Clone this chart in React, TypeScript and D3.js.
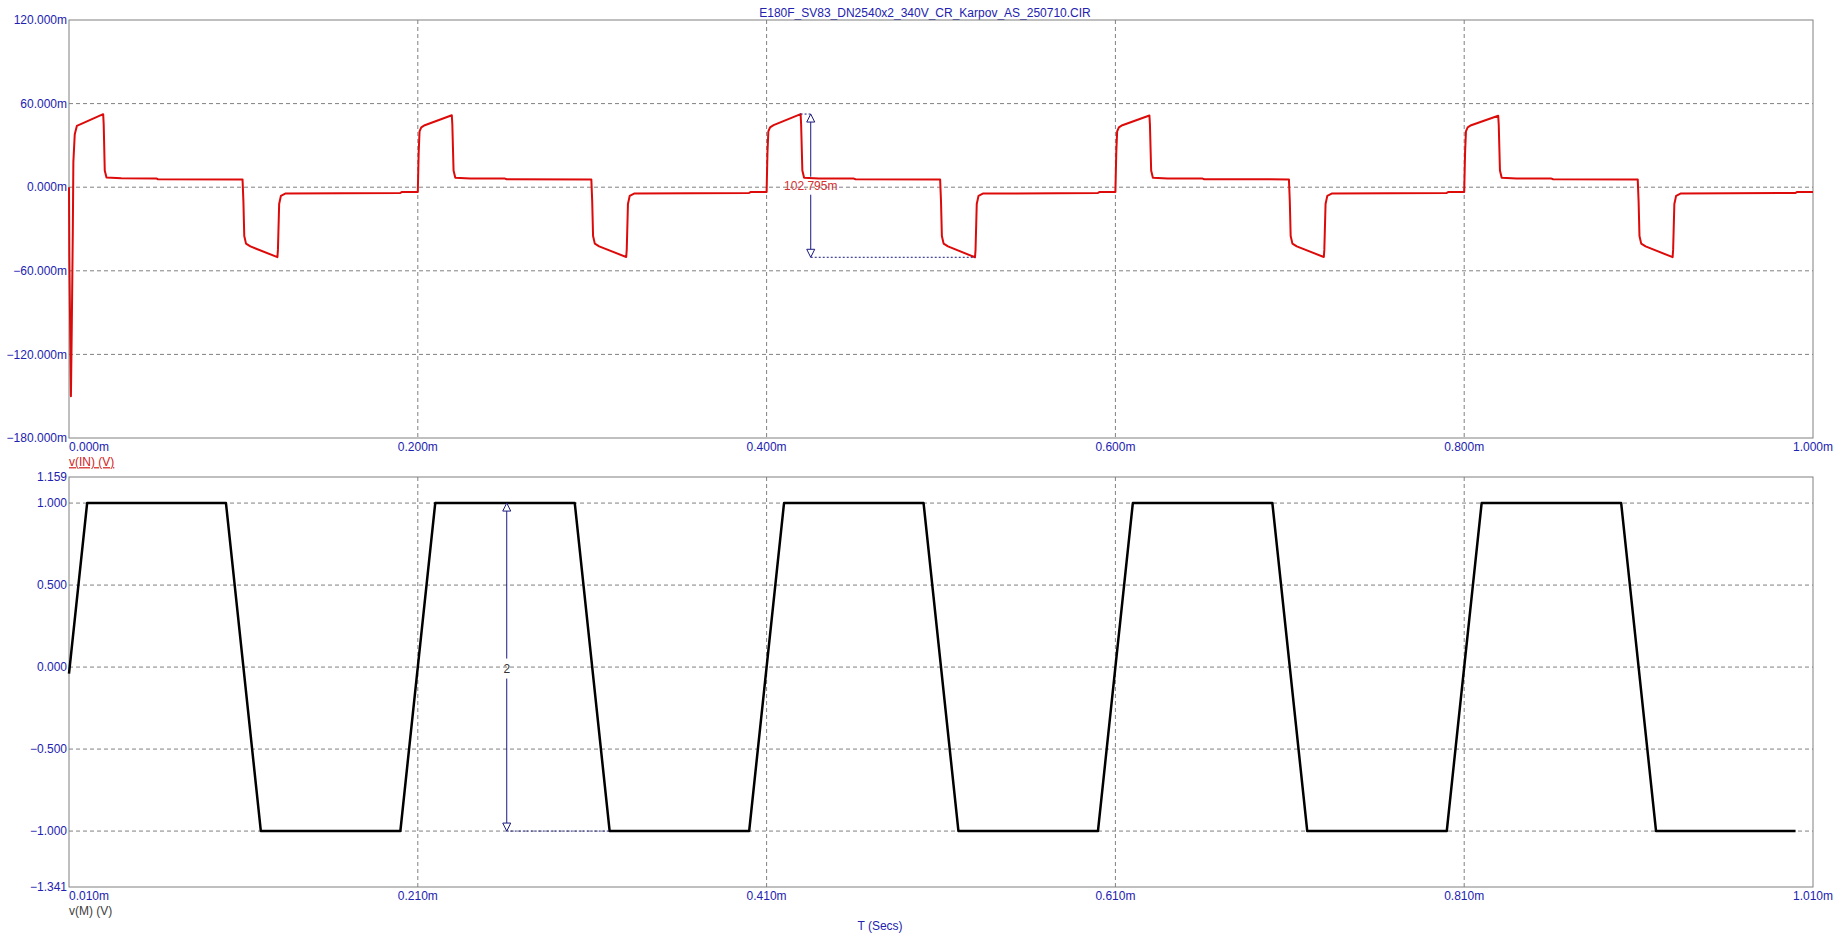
import React from 'react';
import * as d3 from 'd3';

// v(IN) in mV, time in ms
const vinTime = [
  0, 0.0002, 0.0011, 0.0016, 0.0022, 0.0025, 0.0033, 0.0045, 0.0196, 0.0199, 0.0205, 0.0215, 0.03, 0.05, 0.051, 0.0995,
  0.1, 0.1005, 0.1015, 0.104, 0.1195, 0.1198, 0.1205, 0.1215, 0.124, 0.19, 0.191,
  0.2, 0.2005, 0.201, 0.202, 0.204, 0.2195, 0.2198, 0.2205, 0.2215, 0.23, 0.25, 0.251, 0.2995,
  0.3, 0.3005, 0.3015, 0.304, 0.3195, 0.3198, 0.3205, 0.3215, 0.324, 0.39, 0.391,
  0.4, 0.4005, 0.401, 0.402, 0.404, 0.4195, 0.4198, 0.4205, 0.4215, 0.43, 0.45, 0.451, 0.4995,
  0.5, 0.5005, 0.5015, 0.504, 0.5195, 0.5198, 0.5205, 0.5215, 0.524, 0.59, 0.591,
  0.6, 0.6005, 0.601, 0.602, 0.604, 0.6195, 0.6198, 0.6205, 0.6215, 0.63, 0.65, 0.651, 0.6995,
  0.7, 0.7005, 0.7015, 0.704, 0.7195, 0.7198, 0.7205, 0.7215, 0.724, 0.79, 0.791,
  0.8, 0.8005, 0.801, 0.802, 0.804, 0.8195, 0.8198, 0.8205, 0.8215, 0.83, 0.85, 0.851, 0.8995,
  0.9, 0.9005, 0.9015, 0.904, 0.9195, 0.9198, 0.9205, 0.9215, 0.924, 0.99, 0.991, 1.0,
];
const vinValue = [
  0, -50, -150, -100, -30, 18, 38, 44, 52.4, 45, 12, 7, 6.4, 6.3, 5.7, 5.6,
  -10, -35, -40.5, -42.5, -50.2, -45, -12, -6.2, -4.6, -4.1, -3.4,
  -3.4, 25, 40, 43, 44.5, 51.6, 45, 12, 6.8, 6.3, 6.2, 5.7, 5.6,
  -10, -35, -40.5, -42.5, -50.1, -45, -12, -6.2, -4.6, -4.1, -3.4,
  -3.4, 25, 40, 43, 44.5, 52.5, 45, 12, 6.8, 6.3, 6.2, 5.7, 5.6,
  -10, -35, -40.5, -42.5, -50.3, -45, -12, -6.2, -4.6, -4.1, -3.4,
  -3.4, 25, 40, 43, 44.5, 51.5, 45, 12, 6.8, 6.3, 6.2, 5.7, 5.6,
  -10, -35, -40.5, -42.5, -50.1, -45, -12, -6.2, -4.6, -4.1, -3.4,
  -3.4, 25, 40, 43, 44.5, 51.3, 45, 12, 6.8, 6.3, 6.2, 5.7, 5.6,
  -10, -35, -40.5, -42.5, -50.2, -45, -12, -6.2, -4.6, -4.1, -3.4, -3.4,
];

// v(M) in V, time in ms
const vmTime = [0.01, 0.0204, 0.1, 0.12, 0.2, 0.22, 0.3, 0.32, 0.4, 0.42, 0.5, 0.52, 0.6, 0.62, 0.7, 0.72, 0.8, 0.82, 0.9, 0.92, 1.0];
const vmValue = [-0.04, 1, 1, -1, -1, 1, 1, -1, -1, 1, 1, -1, -1, 1, 1, -1, -1, 1, 1, -1, -1];

const topYTicks = [120, 60, 0, -60, -120, -180];
const topYGrid = [60, 0, -60, -120];
const topXTicks = [0, 0.2, 0.4, 0.6, 0.8, 1.0];
const botYTicks = [1.159, 1.0, 0.5, 0, -0.5, -1.0, -1.341];
const botYGrid = [1.0, 0.5, 0, -0.5, -1.0];
const botXTicks = [0.01, 0.21, 0.41, 0.61, 0.81, 1.01];

// dimension annotations
const dimTop = { t: 0.4253, hi: 52.5, hiT: 0.4195, lo: -50.3, loT: 0.5195, label: '102.795m' };
const dimBot = { t: 0.261, hi: 1, lo: -1, loT: 0.32, label: '2' };

const W = 1844;
const H = 946;
const L = 69;
const R = 1813;
const FONT = '"Liberation Sans", Arial, sans-serif';
const BLUE = '#2222b0';
const GRID = '#808080';
const NAVY = '#1a1a80';

const App: React.FC = () => {
  const xTop = d3.scaleLinear().domain([0, 1]).range([L, R]);
  const yTop = d3.scaleLinear().domain([-180, 120]).range([438, 20]);
  const xBot = d3.scaleLinear().domain([0.01, 1.01]).range([L, R]);
  const yBot = d3.scaleLinear().domain([-1.341, 1.159]).range([887, 477]);

  const topLine = d3.line<number>()
    .x((_, i) => xTop(vinTime[i]))
    .y((d) => yTop(d));
  const botLine = d3.line<number>()
    .x((_, i) => xBot(vmTime[i]))
    .y((d) => yBot(d));

  const fmtTop = (v: number) => d3.format('.3f')(v) + 'm';
  const fmtBot = (v: number) => d3.format('.3f')(v);

  const arrowUp = (x: number, y: number) => `M${x},${y} L${x - 4},${y + 8} L${x + 4},${y + 8} Z`;
  const arrowDown = (x: number, y: number) => `M${x},${y} L${x - 4},${y - 8} L${x + 4},${y - 8} Z`;

  const tx = xTop(dimTop.t);
  const tHi = yTop(dimTop.hi);
  const tLo = yTop(dimTop.lo);
  const tMid = yTop(0) - 1.5;
  const bx = xBot(dimBot.t);
  const bHi = yBot(dimBot.hi);
  const bLo = yBot(dimBot.lo);
  const bMid = yBot(0) + 1.5;

  return (
    <svg width={W} height={H} style={{ position: 'absolute', left: 0, top: 0, background: '#fff' }} fontFamily={FONT} fontSize={12}>
      <text x={925} y={13} dy="0.35em" textAnchor="middle" fill={BLUE}>E180F_SV83_DN2540x2_340V_CR_Karpov_AS_250710.CIR</text>

      {/* top plot */}
      <g>
        {topYGrid.map((v) => (
          <line key={'tg' + v} x1={L} x2={R} y1={yTop(v)} y2={yTop(v)} stroke={GRID} strokeDasharray="4,3" />
        ))}
        {topXTicks.slice(1, -1).map((t) => (
          <line key={'tv' + t} x1={xTop(t)} x2={xTop(t)} y1={yTop(120)} y2={yTop(-180)} stroke={GRID} strokeDasharray="4,3" />
        ))}
        <rect x={L} y={yTop(120)} width={R - L} height={yTop(-180) - yTop(120)} fill="none" stroke={GRID} />
        {topYTicks.map((v) => (
          <text key={'ty' + v} x={L - 2} y={yTop(v)} dy="0.35em" textAnchor="end" fill={BLUE}>{fmtTop(v)}</text>
        ))}
        {topXTicks.map((t, i) => (
          <text key={'tx' + t} x={i === 0 ? L : xTop(t)} y={447} dy="0.35em" textAnchor={i === 0 ? 'start' : 'middle'} fill={BLUE}>{fmtTop(t)}</text>
        ))}
        <text x={L} y={462} dy="0.35em" fill="#d42020" textDecoration="underline">v(IN) (V)</text>
        <path d={topLine(vinValue) || ''} fill="none" stroke="#dd0a0a" strokeWidth={2} strokeLinejoin="round" />

        {/* dimension */}
        <line x1={xTop(dimTop.hiT)} x2={tx} y1={tHi} y2={tHi} stroke={NAVY} strokeDasharray="2,2" />
        <line x1={tx} x2={xTop(dimTop.loT)} y1={tLo} y2={tLo} stroke={NAVY} strokeDasharray="2,2" />
        <line x1={tx} x2={tx} y1={tHi + 8} y2={tMid - 9} stroke={NAVY} />
        <line x1={tx} x2={tx} y1={tMid + 9} y2={tLo - 8} stroke={NAVY} />
        <path d={arrowUp(tx, tHi)} fill="#fff" stroke={NAVY} />
        <path d={arrowDown(tx, tLo)} fill="#fff" stroke={NAVY} />
        <text x={tx} y={tMid} dy="0.35em" textAnchor="middle" fill="#d43030">{dimTop.label}</text>
      </g>

      {/* bottom plot */}
      <g>
        {botYGrid.map((v) => (
          <line key={'bg' + v} x1={L} x2={R} y1={yBot(v)} y2={yBot(v)} stroke={GRID} strokeDasharray="4,3" />
        ))}
        {botXTicks.slice(1, -1).map((t) => (
          <line key={'bv' + t} x1={xBot(t)} x2={xBot(t)} y1={yBot(1.159)} y2={yBot(-1.341)} stroke={GRID} strokeDasharray="4,3" />
        ))}
        <rect x={L} y={yBot(1.159)} width={R - L} height={yBot(-1.341) - yBot(1.159)} fill="none" stroke={GRID} />
        {botYTicks.map((v) => (
          <text key={'by' + v} x={L - 2} y={yBot(v)} dy="0.35em" textAnchor="end" fill={BLUE}>{fmtBot(v)}</text>
        ))}
        {botXTicks.map((t, i) => (
          <text key={'bx' + t} x={i === 0 ? L : xBot(t)} y={896} dy="0.35em" textAnchor={i === 0 ? 'start' : 'middle'} fill={BLUE}>{fmtTop(t)}</text>
        ))}
        <text x={L} y={911} dy="0.35em" fill="#404040">v(M) (V)</text>
        <text x={880} y={926} dy="0.35em" textAnchor="middle" fill={BLUE}>T (Secs)</text>
        <path d={botLine(vmValue) || ''} fill="none" stroke="#000" strokeWidth={2.5} strokeLinejoin="round" />

        {/* dimension */}
        <line x1={bx} x2={xBot(dimBot.loT)} y1={bLo} y2={bLo} stroke={NAVY} strokeDasharray="2,2" />
        <line x1={bx} x2={bx} y1={bHi + 8} y2={bMid - 10} stroke={NAVY} />
        <line x1={bx} x2={bx} y1={bMid + 10} y2={bLo - 8} stroke={NAVY} />
        <path d={arrowUp(bx, bHi)} fill="#fff" stroke={NAVY} />
        <path d={arrowDown(bx, bLo)} fill="#fff" stroke={NAVY} />
        <text x={bx} y={bMid} dy="0.35em" textAnchor="middle" fill="#333">{dimBot.label}</text>
      </g>
    </svg>
  );
};

export default App;
